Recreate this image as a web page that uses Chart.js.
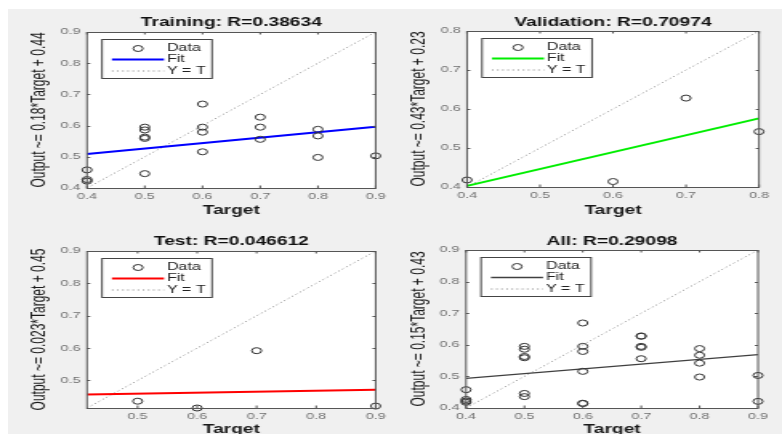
<!DOCTYPE html>
<html><head><meta charset="utf-8">
<script src="https://cdn.jsdelivr.net/npm/chart.js@4/dist/chart.umd.min.js"></script>
<style>
html,body{margin:0;padding:0;background:#fff;width:782px;height:434px;overflow:hidden;}
#bg{position:absolute;left:8px;top:9px;width:774px;height:425px;background:#f0f0f0;}
canvas{position:absolute;}
</style></head><body>
<div id="bg"></div>
<canvas id="c1" width="244" height="217" style="left:0px;top:0px;width:391px;height:217px"></canvas>
<canvas id="c2" width="244" height="217" style="left:391px;top:0px;width:391px;height:217px"></canvas>
<canvas id="c3" width="244" height="217" style="left:0px;top:217px;width:391px;height:217px"></canvas>
<canvas id="c4" width="244" height="217" style="left:391px;top:217px;width:391px;height:217px"></canvas>
<script>
// ---------- data ----------
const trainingTargets = [0.4, 0.4, 0.4, 0.5, 0.5, 0.5, 0.5, 0.5, 0.6, 0.6, 0.6, 0.6, 0.7, 0.7, 0.7, 0.8, 0.8, 0.8, 0.9];
const trainingOutputs = [0.458, 0.427, 0.422, 0.595, 0.586, 0.563, 0.559, 0.446, 0.669, 0.595, 0.579, 0.516, 0.627, 0.595, 0.556, 0.588, 0.567, 0.498, 0.503];
const validationTargets = [0.4, 0.6, 0.7, 0.8];
const validationOutputs = [0.418, 0.414, 0.628, 0.542];
const testTargets = [0.5, 0.6, 0.7, 0.9];
const testOutputs = [0.436, 0.415, 0.592, 0.421];
const allTargets = trainingTargets.concat(validationTargets, testTargets);
const allOutputs = trainingOutputs.concat(validationOutputs, testOutputs);

// fit line end points (x, y)
const trainingFitX = [0.4, 0.9],   trainingFitY = [0.509, 0.596];
const validationFitX = [0.4, 0.8], validationFitY = [0.403, 0.576];
const testFitX = [0.415, 0.9],     testFitY = [0.457, 0.471];
const allFitX = [0.4, 0.9],        allFitY = [0.494, 0.569];

// axis limits and ticks
const trainingRange = [0.4, 0.9];
const validationRange = [0.4, 0.8];
const testRange = [0.415, 0.9];
const allRange = [0.4, 0.9];
const trainingTicks = [0.4, 0.5, 0.6, 0.7, 0.8, 0.9];
const validationTicks = [0.4, 0.5, 0.6, 0.7, 0.8];
const testTicks = [0.5, 0.6, 0.7, 0.8, 0.9];
const allTicks = [0.4, 0.5, 0.6, 0.7, 0.8, 0.9];

const panelTitles = ['Training: R=0.38634', 'Validation: R=0.70974', 'Test: R=0.046612', 'All: R=0.29098'];
const yAxisLabels = ['Output ~= 0.18*Target + 0.44', 'Output ~= 0.43*Target + 0.23', 'Output ~= 0.023*Target + 0.45', 'Output ~= 0.15*Target + 0.43'];
const xAxisLabel = 'Target';
const legendLabels = ['Data', 'Fit', 'Y = T'];
const fitColors = ['#0000ff', '#00ee00', '#ff0000', '#404040'];

// ---------- drawing ----------
Chart.defaults.font.family = "'Liberation Sans', Arial, sans-serif";
const S = 391 / 244;

const matlabAxes = {
  id: 'matlabAxes',
  beforeDraw(chart) {
    const {ctx, chartArea: a} = chart;
    ctx.save();
    ctx.fillStyle = '#ffffff';
    ctx.fillRect(a.left, a.top, a.right - a.left, a.bottom - a.top);
    ctx.restore();
  },
  afterDatasetsDraw(chart) {
    const {ctx, chartArea: a} = chart;
    const xs = chart.scales.x, ys = chart.scales.y;
    ctx.save();
    ctx.strokeStyle = '#555';
    ctx.lineWidth = 1;
    ctx.setLineDash([]);
    ctx.beginPath();
    xs.ticks.forEach(t => {
      const px = xs.getPixelForValue(t.value);
      ctx.moveTo(px, a.bottom); ctx.lineTo(px, a.bottom - 2.5);
      ctx.moveTo(px, a.top); ctx.lineTo(px, a.top + 2.5);
    });
    ys.ticks.forEach(t => {
      const py = Math.round(ys.getPixelForValue(t.value)) + 0.5;
      ctx.moveTo(a.left, py); ctx.lineTo(a.left + 2, py);
      ctx.moveTo(a.right, py); ctx.lineTo(a.right - 2, py);
    });
    ctx.stroke();
    ctx.strokeRect(a.left, Math.round(a.top) + 0.5, a.right - a.left, Math.round(a.bottom) - Math.round(a.top));
    // legend box
    const bx = a.left + 15 / S, by = Math.round(a.top + 7) + 0.5, bw = 110 / S, bh = 39;
    ctx.fillStyle = '#ffffff';
    ctx.fillRect(bx, by, bw, bh);
    ctx.strokeStyle = '#444';
    ctx.strokeRect(bx, by, bw, bh);
    const rows = [9, 20, 31.5];
    chart.data.datasets.forEach((ds, i) => {
      const y = by + rows[i];
      ctx.save();
      ctx.strokeStyle = ds.borderColor;
      ctx.lineWidth = ds.borderWidth || 1;
      ctx.setLineDash(ds.borderDash || []);
      ctx.beginPath();
      if (!ds.showLine) {
        ctx.arc(bx + 22.5, y, 3, 0, Math.PI * 2);
      } else {
        ctx.moveTo(bx + 6.2, y); ctx.lineTo(bx + 38.7, y);
      }
      ctx.stroke();
      ctx.restore();
      ctx.fillStyle = '#222';
      ctx.font = "10px 'Liberation Sans', Arial, sans-serif";
      ctx.textBaseline = 'middle';
      ctx.textAlign = 'left';
      ctx.fillText(ds.label, bx + 40.5, y);
    });
    ctx.restore();
  }
};

function pts(xa, ya) { return xa.map((x, i) => ({x: x, y: ya[i]})); }

function makePanel(id, p) {
  new Chart(document.getElementById(id), {
    type: 'scatter',
    data: {
      datasets: [
        {label: legendLabels[0], data: pts(p.tx, p.ty), showLine: false, clip: false,
         pointStyle: 'circle', pointRadius: 3, pointBorderWidth: 1,
         pointBackgroundColor: 'rgba(0,0,0,0)', pointBorderColor: '#333', borderColor: '#333', borderWidth: 1},
        {label: legendLabels[1], data: pts(p.fx, p.fy), showLine: true, pointRadius: 0,
         borderColor: p.color, borderWidth: p.fitWidth},
        {label: legendLabels[2], data: pts(p.range, p.range), showLine: true, pointRadius: 0,
         borderColor: '#8a8a8a', borderWidth: 1, borderDash: [1, 2.2]}
      ]
    },
    options: {
      responsive: false, animation: false, devicePixelRatio: 1, events: [],
      layout: {padding: {left: 0, right: p.right, top: 0, bottom: 0}},
      plugins: {
        legend: {display: false}, tooltip: {enabled: false},
        title: {display: true, text: p.title, fullSize: false, color: '#111',
                font: {size: 12, weight: 'bold', lineHeight: 1.2},
                padding: {top: p.tpad[0], bottom: p.tpad[1]}}
      },
      scales: {
        x: {
          type: 'linear', position: 'bottom', min: p.range[0], max: p.range[1],
          grid: {display: false, drawTicks: false, tickLength: 0},
          border: {display: false},
          afterBuildTicks: s => { s.ticks = p.ticks.map(v => ({value: v})); },
          afterFit: s => { s.height = p.xh; },
          ticks: {autoSkip: false, maxRotation: 0, padding: 3.3, color: '#707070',
                  font: {size: 9}, callback: v => Number(v).toFixed(1)},
          title: {display: true, text: xAxisLabel, color: '#1a1a1a',
                  font: {size: 12, weight: 'bold', lineHeight: 1},
                  padding: {top: 0, bottom: p.xtoff - 6}}
        },
        y: {
          type: 'linear', position: 'left', min: p.range[0], max: p.range[1],
          grid: {display: false, drawTicks: false, tickLength: 0},
          border: {display: false},
          afterBuildTicks: s => { s.ticks = p.ticks.map(v => ({value: v})); },
          afterFit: s => { s.width = p.left; },
          ticks: {autoSkip: false, padding: 4, color: '#707070',
                  font: {size: 9}, callback: v => Number(v).toFixed(1)},
          title: {display: true, text: p.ylabel, color: '#1a1a1a',
                  font: {size: 12, lineHeight: 1},
                  padding: {top: p.ytx - 6, bottom: 0}}
        }
      }
    },
    plugins: [matlabAxes]
  });
}

makePanel('c1', {tx: trainingTargets, ty: trainingOutputs, fx: trainingFitX, fy: trainingFitY,
  range: trainingRange, ticks: trainingTicks, title: panelTitles[0], ylabel: yAxisLabels[0],
  color: fitColors[0], fitWidth: 2, left: 87 / S, right: 13 / S, tpad: [15.5, 2.1], xh: 29, ytx: 40 / S, xtoff: 6});
makePanel('c2', {tx: validationTargets, ty: validationOutputs, fx: validationFitX, fy: validationFitY,
  range: validationRange, ticks: validationTicks, title: panelTitles[1], ylabel: yAxisLabels[1],
  color: fitColors[1], fitWidth: 2, left: 76 / S, right: 23 / S, tpad: [15.5, 1.1], xh: 30, ytx: 28.5 / S, xtoff: 6});
makePanel('c3', {tx: testTargets, ty: testOutputs, fx: testFitX, fy: testFitY,
  range: testRange, ticks: testTicks, title: panelTitles[2], ylabel: yAxisLabels[2],
  color: fitColors[2], fitWidth: 2, left: 87 / S, right: 15 / S, tpad: [17.8, 1.8], xh: 26, ytx: 40 / S, xtoff: 4});
makePanel('c4', {tx: allTargets, ty: allOutputs, fx: allFitX, fy: allFitY,
  range: allRange, ticks: allTicks, title: panelTitles[3], ylabel: yAxisLabels[3],
  color: fitColors[3], fitWidth: 1.3, left: 75 / S, right: 24 / S, tpad: [17.8, 0.8], xh: 26, ytx: 28.5 / S, xtoff: 4});
</script>
</body></html>
